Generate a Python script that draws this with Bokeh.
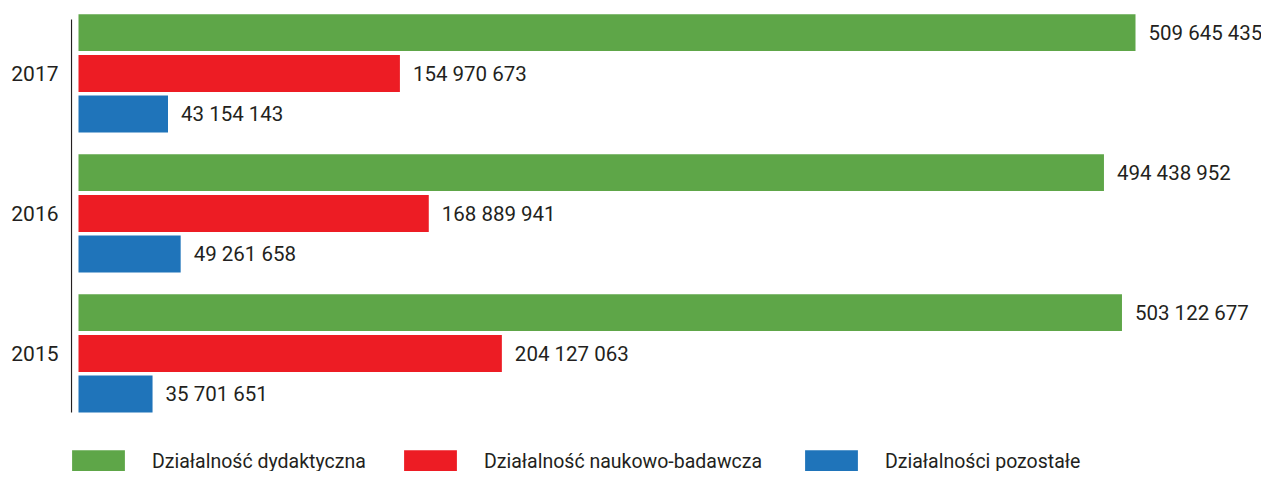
from bokeh.plotting import figure
from bokeh.models import Range1d, FixedTicker, ColumnDataSource, Legend, LegendItem
from bokeh.transform import dodge
from bokeh.core.properties import value
from bokeh.embed import file_html
from bokeh.resources import INLINE

years = [2015, 2016, 2017]
dydaktyczna = [503122677, 494438952, 509645435]
naukowo = [204127063, 168889941, 154970673]
pozostale = [35701651, 49261658, 43154143]
series_names = ["Działalność dydaktyczna", "Działalność naukowo-badawcza", "Działalności pozostałe"]
colors = ["#5ea648", "#ed1c24", "#1f74ba"]

FONT = "Roboto"
TXT = "#231f20"


def fmt(v):
    return f"{v:,}".replace(",", " ")


W, H = 1261, 471
LEFT = 70
UPX = 482162.0  # data units per pixel
X0 = -8 * UPX
YTOP = 2017 + 73 / 140.0
p = figure(width=W, height=H, output_backend="svg", toolbar_location=None,
           x_range=Range1d(X0, X0 + (W - LEFT) * UPX),
           y_range=Range1d(YTOP - H / 140.0, YTOP),
           x_axis_location=None,
           min_border_left=LEFT, min_border_right=0, min_border_top=0, min_border_bottom=0)
p.outline_line_color = None
p.xgrid.visible = False
p.ygrid.visible = False
p.background_fill_color = "white"

# left spine
p.segment(x0=[-7 * UPX], x1=[-7 * UPX], y0=[YTOP - 412 / 140.0], y1=[YTOP - 19 / 140.0],
          line_color="#231f20", line_width=1.2)

offsets = [0.292, 0.0, -0.29]
renderers = []
for vals, off, col in zip([dydaktyczna, naukowo, pozostale], offsets, colors):
    src = ColumnDataSource(dict(year=years, v=vals, label=[fmt(x) for x in vals]))
    r = p.hbar(y=dodge("year", off), right="v", left=0, height=0.264, source=src,
               fill_color=col, line_color=None)
    renderers.append(r)
    p.text(x="v", y=dodge("year", off), text="label", source=src, x_offset=13,
           text_baseline="middle", text_align="left", text_font=value(FONT),
           text_font_size="20.5px", text_color=TXT)

ax = p.yaxis[0]
ax.ticker = FixedTicker(ticks=years)
ax.major_tick_line_color = None
ax.major_tick_out = 0
ax.major_tick_in = 0
ax.minor_tick_line_color = None
ax.minor_tick_out = 0
ax.axis_line_color = None
ax.major_label_standoff = 12
ax.major_label_text_font = FONT
ax.major_label_text_font_size = "21px"
ax.major_label_text_color = TXT

leg_x = [-5, 327, 728]
for name, r, lx in zip(series_names, renderers, leg_x):
    lg = Legend(items=[LegendItem(label=name, renderers=[r])], location=(lx, -4),
                orientation="horizontal", padding=0, margin=0, spacing=0,
                glyph_width=66, glyph_height=28, label_standoff=21, label_height=17,
                label_text_font=FONT, label_text_font_size="19.5px", label_text_color=TXT,
                border_line_color=None, background_fill_alpha=0)
    p.add_layout(lg)

open("out.html", "w").write(file_html(p, INLINE))
